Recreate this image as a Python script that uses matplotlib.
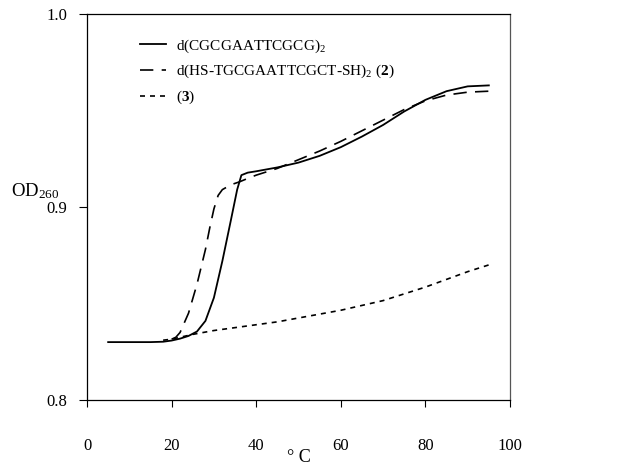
import matplotlib
matplotlib.use("Agg")
import matplotlib.pyplot as plt
import numpy as np

plt.rcParams['font.family'] = ['Liberation Serif', 'DejaVu Serif']
plt.rcParams['mathtext.fontset'] = 'custom'
plt.rcParams['mathtext.rm'] = 'Liberation Serif'
plt.rcParams['mathtext.it'] = 'Liberation Serif:italic'
plt.rcParams['mathtext.bf'] = 'Liberation Serif:bold'

# Series 1: d(CGCGAATTCGCG)2
t1 = [5, 10, 15, 18, 20, 22, 24, 26, 28, 30, 32, 34, 35.5, 36.5, 38, 40, 45, 50, 55, 60, 65, 70, 75, 80, 85, 90, 95]
od1 = [0.830, 0.830, 0.830, 0.8302, 0.8308, 0.8318, 0.8332, 0.8355, 0.841, 0.853, 0.872, 0.893, 0.909, 0.9165, 0.9178, 0.9185, 0.9205, 0.923, 0.9265, 0.931, 0.9365, 0.9425, 0.9495, 0.9555, 0.960, 0.9625, 0.963]

# Series 2: d(HS-TGCGAATTCGCT-SH)2 (2)
t2 = [20, 21, 22, 24, 26, 28, 29, 30, 31, 32, 34, 36, 38, 40, 45, 50, 55, 60, 65, 70, 75, 80, 85, 90, 95]
od2 = [0.8315, 0.8325, 0.835, 0.845, 0.860, 0.878, 0.889, 0.899, 0.906, 0.909, 0.9115, 0.913, 0.9148, 0.9165, 0.920, 0.9245, 0.929, 0.934, 0.9395, 0.945, 0.9505, 0.955, 0.958, 0.9595, 0.960]

# Series 3: (3)
t3 = [18, 20, 25, 30, 35, 40, 45, 50, 55, 60, 65, 70, 75, 80, 85, 90, 95]
od3 = [0.831, 0.8315, 0.834, 0.836, 0.8375, 0.839, 0.8405, 0.8425, 0.8445, 0.8465, 0.849, 0.8515, 0.855, 0.8585, 0.8625, 0.8665, 0.870]

labels = [r"d(CGCGAATTCGCG)$_2$",
          r"d(HS-TGCGAATTCGCT-SH)$_2$ ($\mathbf{2}$)",
          r"($\mathbf{3}$)"]

xticks = [0, 20, 40, 60, 80, 100]
yticks = [0.8, 0.9, 1.0]

fig = plt.figure(figsize=(6.37, 4.66), dpi=100)
ax = fig.add_axes([0.1366, 0.1416, 0.6640, 0.8284])

ax.plot(t1, od1, color='black', lw=1.3, ls='-', label=labels[0])
ax.plot(t2, od2, color='black', lw=1.2, ls=(0, (8, 5)), label=labels[1])
ax.plot(t3, od3, color='black', lw=1.2, ls=(0, (3, 3)), label=labels[2])

ax.set_xlim(0, 100)
ax.set_ylim(0.8, 1.0)
ax.set_xticks(xticks)
ax.set_xticklabels([str(v) for v in xticks])
ax.set_yticks(yticks)
ax.set_yticklabels([f"{v:.1f}" for v in yticks])
ax.tick_params(axis='x', direction='out', length=5, width=0.8, pad=22, labelsize=12)
ax.tick_params(axis='y', direction='out', length=6, width=0.8, pad=8, labelsize=12)
for s in ['left', 'bottom', 'top']:
    ax.spines[s].set_linewidth(0.9)
ax.spines['right'].set_linewidth(0.9)
ax.spines['right'].set_color('#555555')

ax.set_xlabel("° C", fontsize=13, labelpad=-3)
fig.text(0.018, 0.59, r"OD$_{260}$", fontsize=13.5, ha='left', va='center')

leg = ax.legend(loc='upper left', bbox_to_anchor=(0.092, 0.975), frameon=False,
                fontsize=11, handlelength=1.75, handletextpad=0.65, labelspacing=0.55)

fig.savefig("out.png", dpi=100)
